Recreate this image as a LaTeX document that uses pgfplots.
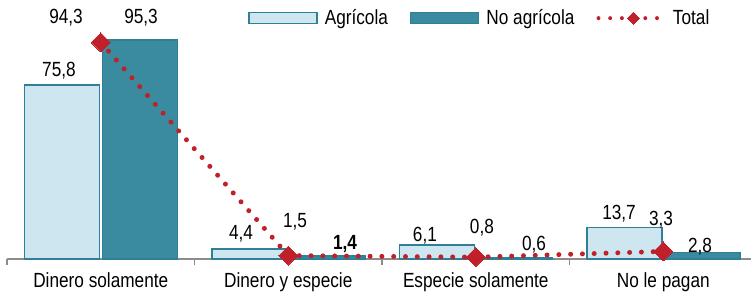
\documentclass[border=0pt]{standalone}
\usepackage{pgfplots}
\pgfplotsset{compat=1.18}
\usepackage{fontspec}
\setmainfont{Liberation Sans}[FakeStretch=0.84]
\definecolor{agri}{HTML}{CDE6F0}
\definecolor{tealf}{HTML}{3A8BA0}
\definecolor{tealb}{HTML}{2F8096}
\definecolor{totred}{HTML}{C0202A}
\definecolor{axgray}{HTML}{8C8C8C}
\newcommand\lf{\fontsize{20.5}{23}\selectfont}
\pgfplotsset{
  barleg/.style={legend image code/.code={\draw[##1,/tikz/.cd] (0pt,-5.5pt) rectangle (68pt,5.5pt);}},
  totleg/.style={legend image code/.code={
    \draw[##1, line width=4pt, dash pattern=on 0pt off 11.7pt] (0pt,0pt) -- (60pt,0pt);
    \draw[##1, mark size=4.3pt] plot coordinates {(35pt,0pt)};
    \path (65pt,0pt);}},
}
\begin{document}
\begin{tikzpicture}
\begin{axis}[
  scale only axis, width=744pt, height=259pt,
  xmin=-0.5, xmax=3.468, ymin=0, ymax=112.7,
  axis y line=none, axis x line=bottom,
  x axis line style={-, axgray, line width=1.5pt},
  xtick={0,1,2,3},
  xticklabels={Dinero solamente, Dinero y especie, Especie solamente, No le pagan},
  major tick length=0pt,
  minor xtick={-0.5,0.5,1.5,2.5}, minor tick length=6pt,
  tick align=outside,
  minor tick style={axgray, line width=1.5pt},
  xticklabel style={font=\lf, anchor=base, yshift=-28pt},
  clip=false,
  legend style={draw=none, fill=none, font=\lf, legend columns=3,
    at={(rel axis cs:0.324,0.93)}, anchor=west, inner sep=0pt,
    nodes={inner sep=0pt},
    /tikz/every odd column/.append style={column sep=7pt},
    /tikz/every even column/.append style={column sep=22pt}},
]
\addplot[ybar, bar width=0.4, bar shift=-0.208, fill=agri, draw=tealb, line width=1.5pt, barleg]
  coordinates {(0,75.8) (1,4.4) (2,6.1) (3,13.7)};
\addlegendentry{Agrícola}
\addplot[ybar, bar width=0.4, bar shift=0.208, fill=tealf, draw=tealb, line width=1.5pt, barleg]
  coordinates {(0,95.3) (1,1.4) (2,0.6) (3,2.8)};
\addlegendentry{No agrícola}
\addplot[totred, line width=5pt, dash pattern=on 0pt off 11.8pt, line cap=round,
  mark=square*, mark size=6.7pt,
  mark options={solid, rotate=45, fill=totred, draw=totred, line width=0pt}, totleg]
  coordinates {(0,94.3) (1,1.5) (2,0.8) (3,3.3)};
\addlegendentry{Total}
% data labels
\begin{scope}[every node/.style={font=\lf, anchor=base, inner sep=0pt}]
\node at (axis cs:-0.223,79.6) {75,8};
\node at (axis cs:-0.185,102.3) {94,3};
\node at (axis cs:0.215,102.3) {95,3};
\node at (axis cs:0.748,8.7) {4,4};
\node at (axis cs:1.036,13.5) {1,5};
\node at (axis cs:1.303,4.35) {\bfseries 1,4};
\node at (axis cs:1.729,7.8) {6,1};
\node at (axis cs:2.033,11.3) {0,8};
\node at (axis cs:2.311,3.9) {0,6};
\node at (axis cs:2.764,17.0) {13,7};
\node at (axis cs:2.988,14.4) {3,3};
\node at (axis cs:3.196,3.0) {2,8};
\end{scope}
\end{axis}
\pgfresetboundingbox
\path[use as bounding box] (-7pt,-36pt) rectangle (744pt,259pt);
\end{tikzpicture}
\end{document}
